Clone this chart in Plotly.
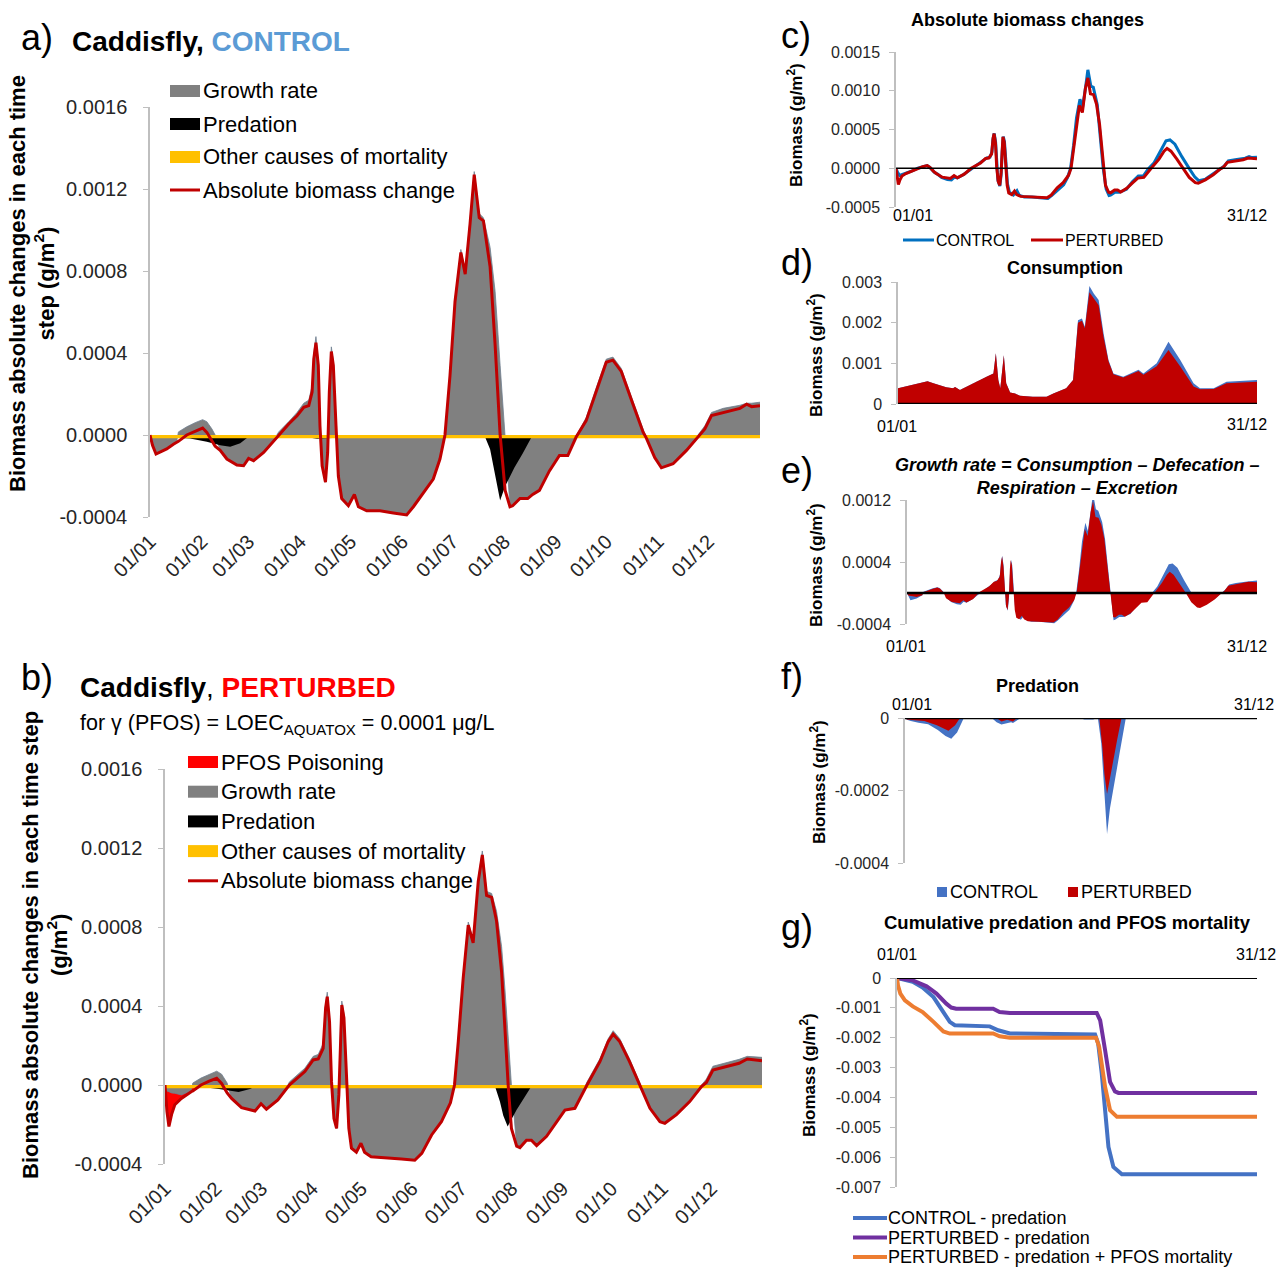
import plotly.graph_objects as go

W, H = 1276, 1269
U4 = 1e-4   # panels a-f values are typed in units of 1e-4 g/m2
U3 = 1e-3   # panel g values are typed in units of 1e-3 g/m2

MONTH_DAYS = [0, 31, 59, 90, 120, 151, 181, 212, 243, 273, 304, 334]
MONTH_LABELS = ["01/01", "01/02", "01/03", "01/04", "01/05", "01/06",
                "01/07", "01/08", "01/09", "01/10", "01/11", "01/12"]
AB_TICKS = [-0.0004, 0.0, 0.0004, 0.0008, 0.0012, 0.0016]
AB_TICKTEXT = ["-0.0004", "0.0000", "0.0004", "0.0008", "0.0012", "0.0016"]
C_TICKS = [-0.0005, 0.0, 0.0005, 0.0010, 0.0015]
C_TICKTEXT = ["-0.0005", "0.0000", "0.0005", "0.0010", "0.0015"]
D_TICKS = [0, 0.001, 0.002, 0.003]
D_TICKTEXT = ["0", "0.001", "0.002", "0.003"]
E_TICKS = [-0.0004, 0.0004, 0.0012]
E_TICKTEXT = ["-0.0004", "0.0004", "0.0012"]
F_TICKS = [-0.0004, -0.0002, 0]
F_TICKTEXT = ["-0.0004", "-0.0002", "0"]
G_TICKS = [-0.007, -0.006, -0.005, -0.004, -0.003, -0.002, -0.001, 0]
G_TICKTEXT = ["-0.007", "-0.006", "-0.005", "-0.004", "-0.003", "-0.002", "-0.001", "0"]

# ---------------- Panel a : CONTROL (1e-4 g/m2) ----------------
DAYS_CONTROL = [0, 1.5, 3.6, 10, 14, 16, 17, 22, 27, 31.5, 34, 37, 39, 42, 46, 52, 56, 59, 62, 68,
                74, 77, 83, 88, 92, 95, 97, 98, 99.3, 100.7, 101.7, 103, 105, 106.3, 107.3, 108.5,
                109.7, 111.3, 112.7, 114.7, 118.7, 122.3, 124.7, 129.7, 137.6, 145.6, 153.6, 157.6,
                163.6, 169.5, 173.5, 176.5, 179.5, 182.5, 186, 188.6, 191.5, 194, 197, 199.5, 203.5,
                206.5, 209.5, 212.5, 215.4, 217, 221.4, 226, 229, 233, 239, 245, 250, 255, 261, 267,
                273, 277, 282, 289, 295, 297, 302, 306, 313, 321, 327, 332, 336, 343, 353, 357, 360, 365]
ABS_CHANGE_CONTROL = [0, -0.5, -0.93, -0.68, -0.45, -0.36, -0.31, 0.0, 0.2, 0.34, 0.13, -0.3, -0.55,
                      -0.75, -1.17, -1.46, -1.5, -1.14, -1.25, -0.85, -0.28, 0.0, 0.54, 0.94, 1.35, 1.43,
                      2.1, 3.7, 4.5, 3.4, 0.45, -1.5, -2.3, -0.85, 2.1, 4.07, 3.4, 0.45, -2.0, -3.1,
                      -3.45, -2.9, -3.5, -3.7, -3.7, -3.8, -3.9, -3.5, -2.8, -2.15, -1.17, 0.0, 2.9,
                      6.5, 8.9, 7.85, 10.3, 12.7, 10.6, 10.45, 8.2, 4.4, 0.0, -2.7, -3.5, -3.45, -3.1,
                      -3.1, -2.9, -2.7, -1.75, -1.0, -1.0, -0.1, 0.7, 2.15, 3.55, 3.65, 3.1, 1.5, 0.15,
                      -0.15, -1.1, -1.6, -1.4, -0.75, -0.15, 0.3, 0.95, 1.1, 1.3, 1.5, 1.38, 1.43]
GROWTH_CONTROL = [0, -0.5, -0.95, -0.7, -0.47, -0.3, 0.15, 0.4, 0.6, 0.75, 0.65, 0.3, 0.0, -0.75,
                  -1.17, -1.46, -1.5, -1.14, -1.25, -0.85, -0.25, 0.15, 0.65, 1.1, 1.55, 1.7, 2.4, 4.0,
                  4.8, 3.6, 0.7, -1.5, -2.3, -0.85, 2.3, 4.3, 3.6, 0.7, -2.0, -3.1, -3.45, -2.9, -3.5,
                  -3.7, -3.7, -3.8, -3.9, -3.5, -2.8, -2.15, -1.17, 0.1, 3.05, 6.65, 9.05, 8.0, 10.5,
                  12.85, 10.8, 10.6, 9.15, 7.0, 3.4, 0.0, -3.5, -3.45, -3.1, -3.1, -2.9, -2.7, -1.75,
                  -1.0, -1.0, -0.05, 0.85, 2.3, 3.7, 3.8, 3.25, 1.65, 0.3, -0.15, -1.1, -1.6, -1.4,
                  -0.75, -0.1, 0.45, 1.1, 1.3, 1.45, 1.55, 1.55, 1.6]
PRED_DAYS_CONTROL = [0, 2, 6, 14, 24, 34, 42, 48, 54, 58, 61, 90, 95, 100, 105, 110, 112, 115, 120,
                     181, 186, 195, 200, 203.5, 206.5, 209.5, 212.5, 218, 223, 229, 365]
PREDATION_CONTROL = [0, -0.05, -0.08, -0.13, -0.17, -0.33, -0.5, -0.57, -0.4, -0.15, 0, 0, -0.12,
                     -0.18, -0.15, -0.12, -0.14, -0.08, 0, 0, -0.04, -0.04, 0, -0.7, -2.0, -3.2,
                     -2.5, -1.6, -0.9, 0, 0]
OTHER_DAYS = [0, 365]
OTHER_MORT_CONTROL = [-0.16, -0.16]

# ---------------- Panel b : PERTURBED (1e-4 g/m2) ----------------
DAYS_PERTURBED = [0, 1.2, 2.4, 4, 6, 10, 16, 17, 22, 27, 31.6, 34.6, 38, 39, 40.7, 46.8, 55, 58.7, 62,
                  69, 75, 76, 85.5, 90.6, 93.7, 96.7, 98.2, 99.2, 100.6, 101.8, 103.3, 104.9, 106.3,
                  107.3, 108.1, 109.4, 110.8, 112.4, 114, 117, 119.8, 122, 126, 136.5, 144.6, 152.7,
                  157, 163, 169, 174.5, 177, 179.3, 182.3, 185.4, 188.4, 191.5, 194, 196.6, 199.7,
                  202.7, 205.8, 207.8, 209.8, 211.8, 215, 217, 221, 224, 227.2, 233.3, 239.4, 244.5,
                  250.6, 254.7, 258, 265.9, 271, 274, 278, 284, 290.3, 296.5, 302.6, 305.6, 312.7,
                  320.8, 328, 331, 335, 343, 351, 356, 365]
ABS_CHANGE_PERTURBED = [0, -1.35, -2.1, -1.5, -1.0, -0.68, -0.34, -0.3, 0.0, 0.2, 0.34, 0.08, -0.4,
                        -0.5, -0.68, -1.15, -1.32, -0.95, -1.23, -0.76, -0.08, 0.0, 0.68, 1.27, 1.32,
                        1.86, 3.9, 4.47, 3.2, 0.17, -1.7, -2.2, -0.5, 2.87, 4.05, 3.4, 0.5, -2.2, -3.2,
                        -3.4, -2.95, -3.4, -3.63, -3.68, -3.75, -3.81, -3.46, -2.53, -1.86, -0.9, 0.0,
                        2.2, 5.4, 8.1, 7.2, 10.3, 11.65, 9.6, 9.5, 8.3, 5.7, 2.9, 0.0, -2.2, -3.1,
                        -3.17, -2.8, -2.8, -3.07, -2.6, -1.86, -1.27, -1.18, -0.5, 0.0, 1.18, 2.2, 2.57,
                        2.2, 1.18, 0.0, -1.18, -1.86, -1.94, -1.5, -0.84, -0.08, 0.13, 0.76, 0.93, 1.1,
                        1.32, 1.23]
GROWTH_PERTURBED = [0, -0.3, -0.34, -0.4, -0.42, -0.5, -0.3, 0.1, 0.35, 0.55, 0.7, 0.55, 0.1, -0.2,
                    -0.68, -1.15, -1.32, -0.95, -1.23, -0.76, -0.05, 0.15, 0.85, 1.45, 1.55, 2.1, 4.1,
                    4.7, 3.4, 0.4, -1.7, -2.2, -0.45, 3.1, 4.25, 3.6, 0.7, -2.2, -3.2, -3.4, -2.95,
                    -3.4, -3.63, -3.68, -3.75, -3.81, -3.46, -2.53, -1.86, -0.9, 0.15, 2.35, 5.55,
                    8.25, 7.35, 10.45, 11.85, 9.8, 9.7, 8.8, 7.0, 4.9, 2.3, 0.0, -3.1, -3.17, -2.8,
                    -2.8, -3.07, -2.6, -1.86, -1.27, -1.18, -0.5, 0.15, 1.33, 2.35, 2.75, 2.35, 1.33,
                    0.1, -1.18, -1.86, -1.94, -1.5, -0.84, 0.0, 0.3, 0.95, 1.12, 1.3, 1.45, 1.4]
PRED_DAYS_PERTURBED = [0, 2, 10, 20, 33, 40, 45, 52, 57, 95, 100, 106, 112, 116, 201.5, 204.8,
                       206.8, 209.5, 211.8, 215, 220, 224.5, 365]
PREDATION_PERTURBED = [0, -0.04, -0.06, -0.08, -0.2, -0.3, -0.35, -0.2, 0, 0, -0.1, -0.05, -0.1, 0,
                       0, -0.85, -1.55, -2.1, -1.75, -1.25, -0.6, 0, 0]
OTHER_MORT_PERTURBED = [-0.17, -0.17]
PFOS_DAYS = [0, 1.2, 2.4, 4, 6, 10, 16, 22, 30, 365]
PFOS_POISONING = [0, -1.35, -2.1, -1.5, -1.0, -0.68, -0.34, -0.05, 0, 0]

# ---------------- Panel d : consumption (1e-4 g/m2) ----------------
CONS_DAYS = [0, 15, 30, 36, 49, 56, 58, 63, 76, 90, 97, 99.5, 102, 104, 107.6, 110, 114, 119, 124,
             137, 151, 158, 171, 178, 183, 187, 190, 194.6, 199, 204, 209, 214, 219, 229, 244.5,
             249.5, 263, 275, 287, 300.5, 307, 321, 334, 365]
CONSUMPTION_CONTROL = [3.85, 4.7, 5.6, 5.1, 4.1, 3.9, 4.2, 3.45, 5.1, 6.7, 7.5, 12.5, 5.9, 3.85,
                       12.0, 5.1, 2.8, 2.6, 2.0, 1.8, 1.8, 2.6, 3.85, 5.9, 20.6, 21.0, 19.0, 29.0,
                       27.2, 25.6, 17.4, 10.8, 7.5, 6.7, 8.4, 7.5, 10.0, 15.3, 10.8, 5.1, 3.85, 3.85,
                       5.5, 5.9]
CONSUMPTION_PERTURBED = [3.85, 4.7, 5.6, 5.1, 4.1, 3.9, 4.2, 3.45, 5.1, 6.7, 7.5, 12.5, 5.9, 3.85,
                         12.0, 5.1, 2.8, 2.6, 2.0, 1.8, 1.8, 2.6, 3.85, 5.9, 20.0, 20.5, 18.6, 27.5,
                         26.0, 24.3, 16.5, 10.5, 7.3, 6.5, 8.1, 7.2, 9.3, 13.3, 9.2, 4.3, 3.6, 3.7,
                         5.1, 5.5]

# ---------------- Panel g : cumulative (1e-3 g/m2) ----------------
CUM_DAYS_CONTROL = [0, 16, 26, 37, 47, 53.5, 58.6, 94, 102.6, 114.5, 200.8, 204, 207.6, 211, 214.4,
                    219.4, 228, 365]
CUM_PRED_CONTROL = [0, -0.13, -0.32, -0.64, -1.14, -1.47, -1.58, -1.62, -1.75, -1.86, -1.89, -2.2,
                    -3.2, -4.54, -5.66, -6.33, -6.57, -6.57]
CUM_DAYS_PERT_PRED = [0, 16, 30, 40, 50, 55, 60, 97.5, 104, 114.5, 202.5, 206, 211, 216, 221, 224.5, 365]
CUM_PRED_PERTURBED = [0, -0.08, -0.28, -0.52, -0.86, -0.99, -1.03, -1.03, -1.14, -1.17, -1.17,
                      -1.42, -2.42, -3.48, -3.8, -3.85, -3.85]
CUM_DAYS_PERT_PFOS = [0, 1, 3.4, 8, 16, 26, 37, 47, 53.5, 97.5, 104, 114.5, 201.8, 205, 211, 216, 223, 365]
CUM_PRED_PFOS_PERTURBED = [0, -0.25, -0.52, -0.75, -0.95, -1.14, -1.47, -1.79, -1.86, -1.86, -1.95,
                           -2.0, -2.0, -2.31, -3.65, -4.43, -4.65, -4.65]

# ---------------- styling ----------------
FONT = "Liberation Sans, Arial, sans-serif"
GRAY = "#808080"
YELLOW = "#FFC000"
DARKRED = "#C00000"
BLUE_C = "#0070C0"
BLUE = "#4472C4"
PURPLE = "#7030A0"
ORANGE = "#ED7D31"
TXT = "#262626"
AXC = "#BFBFBF"


def fx(p):
    return p / W


def fy(p):
    return 1 - p / H


def sc(vals, k):
    return [v * k for v in vals]


fig = go.Figure()


def area(x, y, color, xa, ya, lw=0, lc=None):
    fig.add_trace(go.Scatter(x=x, y=y, mode="lines", fill="tozeroy", fillcolor=color,
                             line=dict(width=lw, color=lc or color), xaxis=xa, yaxis=ya,
                             showlegend=False, hoverinfo="skip"))


def line(x, y, color, width, xa, ya):
    fig.add_trace(go.Scatter(x=x, y=y, mode="lines", line=dict(width=width, color=color),
                             xaxis=xa, yaxis=ya, showlegend=False, hoverinfo="skip"))


# a
area(DAYS_CONTROL, sc(GROWTH_CONTROL, U4), GRAY, "x", "y", 0.8, "#6F7F90")
area(PRED_DAYS_CONTROL, sc(PREDATION_CONTROL, U4), "#000000", "x", "y")
area(OTHER_DAYS, sc(OTHER_MORT_CONTROL, U4), YELLOW, "x", "y")
line(DAYS_CONTROL, sc(ABS_CHANGE_CONTROL, U4), DARKRED, 3, "x", "y")
# b
area(PFOS_DAYS, sc(PFOS_POISONING, U4), "#FF0000", "x2", "y2")
area(DAYS_PERTURBED, sc(GROWTH_PERTURBED, U4), GRAY, "x2", "y2", 0.8, "#6F7F90")
area(PRED_DAYS_PERTURBED, sc(PREDATION_PERTURBED, U4), "#000000", "x2", "y2")
area(OTHER_DAYS, sc(OTHER_MORT_PERTURBED, U4), YELLOW, "x2", "y2")
line(DAYS_PERTURBED, sc(ABS_CHANGE_PERTURBED, U4), DARKRED, 3, "x2", "y2")
# c
line(DAYS_CONTROL, sc(ABS_CHANGE_CONTROL, U4), BLUE_C, 3, "x3", "y3")
line(DAYS_PERTURBED, sc(ABS_CHANGE_PERTURBED, U4), DARKRED, 3, "x3", "y3")
# d
area(CONS_DAYS, sc(CONSUMPTION_CONTROL, U4), BLUE, "x4", "y4")
area(CONS_DAYS, sc(CONSUMPTION_PERTURBED, U4), DARKRED, "x4", "y4")
# e
area(DAYS_CONTROL, sc(GROWTH_CONTROL, U4), BLUE, "x5", "y5")
area(DAYS_PERTURBED, sc(GROWTH_PERTURBED, U4), DARKRED, "x5", "y5")
# f
area(PRED_DAYS_CONTROL, sc(PREDATION_CONTROL, U4), BLUE, "x6", "y6")
area(PRED_DAYS_PERTURBED, sc(PREDATION_PERTURBED, U4), DARKRED, "x6", "y6")
# g
line(CUM_DAYS_CONTROL, sc(CUM_PRED_CONTROL, U3), BLUE, 4, "x7", "y7")
line(CUM_DAYS_PERT_PRED, sc(CUM_PRED_PERTURBED, U3), PURPLE, 4, "x7", "y7")
line(CUM_DAYS_PERT_PFOS, sc(CUM_PRED_PFOS_PERTURBED, U3), ORANGE, 4, "x7", "y7")


def xax(x0, x1, anchor, **kw):
    d = dict(domain=[fx(x0), fx(x1)], range=[0, 365], anchor=anchor, showgrid=False,
             zeroline=False, showline=False, ticks="", showticklabels=False, fixedrange=True,
             automargin=False)
    d.update(kw)
    return d


def yax(top, bottom, rng, vals, text, anchor, size, standoff=6):
    return dict(domain=[fy(bottom), fy(top)], range=rng, anchor=anchor, showgrid=False,
                zeroline=False, showline=True, linecolor=AXC, linewidth=1.5, ticks="outside",
                ticklen=5, tickcolor=AXC, tickvals=vals, ticktext=text,
                tickfont=dict(family=FONT, size=size, color=TXT), ticklabelstandoff=standoff,
                fixedrange=True, automargin=False)


month_kw = dict(showticklabels=True, tickvals=MONTH_DAYS, ticktext=MONTH_LABELS, tickangle=-45,
                tickfont=dict(family=FONT, size=20, color=TXT), ticklabelstandoff=8)

layout = dict(
    width=W, height=H, margin=dict(l=0, r=0, t=0, b=0, pad=0, autoexpand=False), autosize=False,
    paper_bgcolor="white", plot_bgcolor="rgba(0,0,0,0)", showlegend=False,
    font=dict(family=FONT, color="#000000"),
    xaxis=xax(150, 760, "y", **month_kw),
    yaxis=yax(107, 517, [-0.0004, 0.0016], AB_TICKS, AB_TICKTEXT, "x", 20, standoff=12),
    xaxis2=xax(165, 762, "y2", **month_kw),
    yaxis2=yax(769, 1164, [-0.0004, 0.0016], AB_TICKS, AB_TICKTEXT, "x2", 20, standoff=12),
    xaxis3=xax(896, 1257, "y3"),
    yaxis3=yax(52, 207, [-0.0005, 0.0015], C_TICKS, C_TICKTEXT, "x3", 16),
    xaxis4=xax(898, 1257, "y4"),
    yaxis4=yax(282, 404, [0, 0.003], D_TICKS, D_TICKTEXT, "x4", 16),
    xaxis5=xax(907, 1257, "y5"),
    yaxis5=yax(500, 624, [-0.0004, 0.0012], E_TICKS, E_TICKTEXT, "x5", 16),
    xaxis6=xax(905, 1257, "y6"),
    yaxis6=yax(718, 863, [-0.0004, 0], F_TICKS, F_TICKTEXT, "x6", 16),
    xaxis7=xax(897, 1257, "y7"),
    yaxis7=yax(978, 1187, [-0.007, 0], G_TICKS, G_TICKTEXT, "x7", 16),
)
fig.update_layout(**layout)

shapes = []
for xa, ya, w in [("x3", "y3", 1.5), ("x4", "y4", 2.5), ("x5", "y5", 2.5), ("x6", "y6", 2.5), ("x7", "y7", 2)]:
    shapes.append(dict(type="line", xref=xa + " domain", yref=ya, x0=0, x1=1, y0=0, y1=0,
                       line=dict(color="#000000", width=w), layer="above"))

annotations = []


def txt(x, y, s, size, xanchor="left", angle=0, color="#000000", align="left"):
    annotations.append(dict(x=fx(x), y=fy(y), xref="paper", yref="paper", text=s, showarrow=False,
                            xanchor=xanchor, yanchor="middle", textangle=angle, align=align,
                            font=dict(family=FONT, size=size, color=color)))


def rect(x0, x1, yc, h, color):
    shapes.append(dict(type="rect", xref="paper", yref="paper", x0=fx(x0), x1=fx(x1),
                       y0=fy(yc + h / 2), y1=fy(yc - h / 2), fillcolor=color, line=dict(width=0)))


def hline(x0, x1, yc, color, w):
    shapes.append(dict(type="line", xref="paper", yref="paper", x0=fx(x0), x1=fx(x1),
                       y0=fy(yc), y1=fy(yc), line=dict(color=color, width=w)))


# ----- panel a texts
txt(19, 37, "a)", 36)
txt(70, 41, "<b>Caddisfly, <span style='color:#5B9BD5'>CONTROL</span></b>", 28)
txt(32, 284, "<b>Biomass absolute changes in each time<br>step (g/m<sup>2</sup>)</b>", 22,
    xanchor="center", angle=-90, align="center")
leg_a = [("Growth rate", GRAY, "r"), ("Predation", "#000000", "r"),
         ("Other causes of mortality", YELLOW, "r"), ("Absolute biomass change", DARKRED, "l")]
for i, (name, col, kind) in enumerate(leg_a):
    yc = 91 + i * 33
    if kind == "r":
        rect(170, 200, yc, 12, col)
    else:
        hline(170, 200, yc, col, 3)
    txt(201, yc, name, 22)

# ----- panel b texts
txt(19, 677, "b)", 36)
txt(78, 687, "<b>Caddisfly</b>, <b><span style='color:#FF0000'>PERTURBED</span></b>", 28)
txt(78, 724, "for γ (PFOS) = LOEC<sub>AQUATOX</sub> = 0.0001 μg/L", 21.5)
txt(45, 945, "<b>Biomass absolute changes in each time step<br>(g/m<sup>2</sup>)</b>", 22,
    xanchor="center", angle=-90, align="center")
leg_b = [("PFOS Poisoning", "#FF0000", "r"), ("Growth rate", GRAY, "r"), ("Predation", "#000000", "r"),
         ("Other causes of mortality", YELLOW, "r"), ("Absolute biomass change", DARKRED, "l")]
for i, (name, col, kind) in enumerate(leg_b):
    yc = 762 + i * 29.7
    if kind == "r":
        rect(188, 218, yc, 12, col)
    else:
        hline(188, 218, yc, col, 3)
    txt(219, yc, name, 22)

# ----- right panels
ytitle = "<b>Biomass (g/m<sup>2</sup>)</b>"
txt(779, 35, "c)", 36)
txt(1027, 20, "<b>Absolute biomass changes</b>", 18, xanchor="center")
txt(795, 125, ytitle, 17, xanchor="center", angle=-90)
txt(913, 215, "01/01", 16, xanchor="center")
txt(1247, 215, "31/12", 16, xanchor="center")
hline(903, 934, 240, BLUE_C, 3)
txt(934, 240, "CONTROL", 16)
hline(1031, 1063, 240, DARKRED, 3)
txt(1063, 240, "PERTURBED", 16)

txt(779, 263, "d)", 36)
txt(1065, 268, "<b>Consumption</b>", 18, xanchor="center")
txt(815, 355, ytitle, 17, xanchor="center", angle=-90)
txt(897, 427, "01/01", 16, xanchor="center")
txt(1247, 424, "31/12", 16, xanchor="center")

txt(779, 470, "e)", 36)
txt(1077, 476, "<b><i>Growth rate = Consumption – Defecation –<br>Respiration – Excretion</i></b>",
    18, xanchor="center", align="center")
txt(815, 565, ytitle, 17, xanchor="center", angle=-90)
txt(906, 646, "01/01", 16, xanchor="center")
txt(1247, 646, "31/12", 16, xanchor="center")

txt(779, 676, "f)", 36)
txt(1037, 686, "<b>Predation</b>", 18, xanchor="center")
txt(818, 782, ytitle, 17, xanchor="center", angle=-90)
txt(912, 704, "01/01", 16, xanchor="center")
txt(1254, 704, "31/12", 16, xanchor="center")
rect(937, 947, 892, 10, BLUE)
txt(948, 892, "CONTROL", 18)
rect(1068, 1078, 892, 10, DARKRED)
txt(1079, 892, "PERTURBED", 18)

txt(779, 928, "g)", 36)
txt(1067, 922, "<b>Cumulative predation and PFOS mortality</b>", 18.5, xanchor="center")
txt(808, 1075, ytitle, 17, xanchor="center", angle=-90)
txt(897, 954, "01/01", 16, xanchor="center")
txt(1256, 954, "31/12", 16, xanchor="center")
leg_g = [("CONTROL - predation", BLUE), ("PERTURBED - predation", PURPLE),
         ("PERTURBED - predation + PFOS mortality", ORANGE)]
for i, (name, col) in enumerate(leg_g):
    yc = 1218 + i * 19.5
    hline(853, 887, yc, col, 4)
    txt(886, yc, name, 18)

fig.update_layout(shapes=shapes, annotations=annotations)
fig.write_html("out.html")
